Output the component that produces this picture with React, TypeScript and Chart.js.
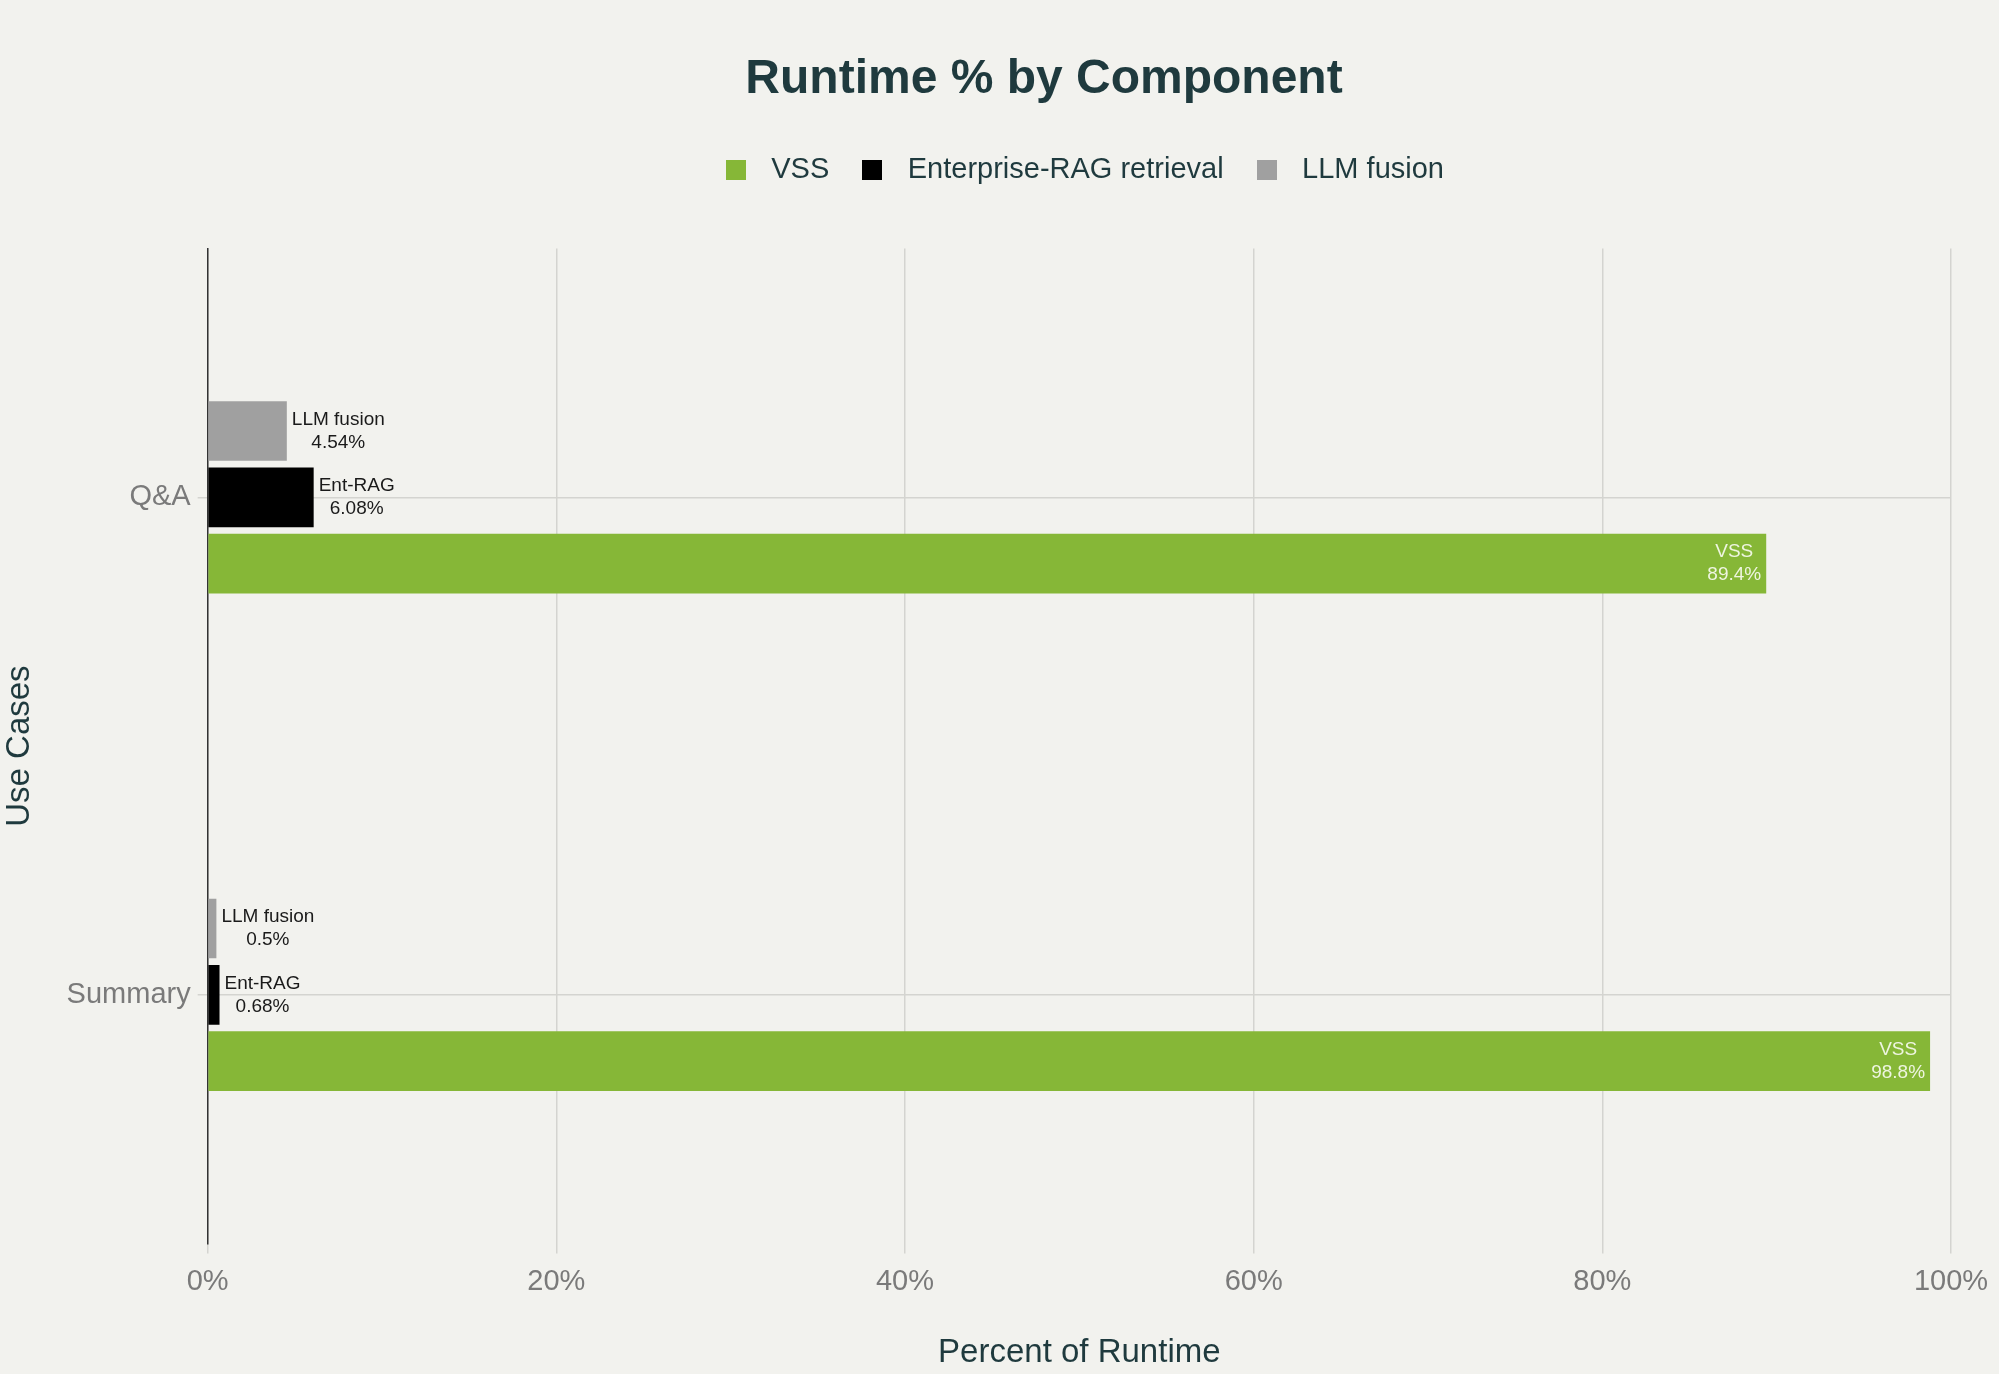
import React, { useEffect, useRef } from 'react';
import { Chart, registerables } from 'chart.js';

Chart.register(...registerables);

// chart data
const useCases = ['Q&A', 'Summary'];
const componentNames = ['VSS', 'Enterprise-RAG retrieval', 'LLM fusion'];
const shortNames = ['VSS', 'Ent-RAG', 'LLM fusion'];
const vssValues = [89.4, 98.8];
const entRagValues = [6.08, 0.68];
const llmFusionValues = [4.54, 0.5];
const xTickValues = [0, 20, 40, 60, 80, 100];

const seriesValues = [vssValues, entRagValues, llmFusionValues];
const seriesColors = ['#86b737', '#000000', '#a0a0a0'];
// top to bottom inside each group: LLM fusion, Ent-RAG, VSS
const drawOrder = [2, 1, 0];

const FONT = "'Liberation Sans', Arial, sans-serif";
const DARK = '#1f3a3e';
const GREY = '#7a7a7a';
const GRID = '#d4d4d0';
const BG = '#f2f2ee';

const LEGEND_GAP = 54;
const TITLE_CENTER_X = 1044;

// square legend swatch drawn as an image so the gap to the text can be wider
const swatch = (color: string) => {
  const c = document.createElement('canvas');
  c.width = 20;
  c.height = 20;
  const g = c.getContext('2d');
  if (g) {
    g.fillStyle = color;
    g.fillRect(0, 0, 20, 20);
  }
  return c;
};

// extra room under the legend, legend centred over the plot area, title nudged
const headerPlacement = {
  id: 'headerPlacement',
  beforeInit(chart: any) {
    const legend = chart.legend;
    if (!legend) return;
    const fit = legend.fit;
    legend.fit = function () {
      fit.call(this);
      this.height += LEGEND_GAP;
    };
  },
  afterLayout(chart: any) {
    const area = chart.chartArea;
    const legend = chart.legend;
    if (legend) {
      legend.left = area.left;
      legend.right = area.right;
      legend.width = area.right - area.left;
    }
    const title = chart.titleBlock;
    if (title) {
      const dx = TITLE_CENTER_X - (title.left + title.right) / 2;
      title.left += dx;
      title.right += dx;
    }
  },
};

// two-line labels next to / inside the bars
const barLabels = {
  id: 'barLabels',
  afterDatasetsDraw(chart: any) {
    const ctx = chart.ctx;
    const size = 19;
    const lineH = 23;
    ctx.save();
    ctx.font = `${size}px ${FONT}`;
    ctx.textAlign = 'center';
    ctx.textBaseline = 'middle';
    chart.data.datasets.forEach((ds: any, di: number) => {
      const meta = chart.getDatasetMeta(di);
      meta.data.forEach((bar: any, i: number) => {
        const value = ds.data[i];
        const lines = [ds.shortName, `${value}%`];
        const w = Math.max(...lines.map((l) => ctx.measureText(l).width));
        const inside = value >= 50;
        const cx = inside ? bar.x - 5 - w / 2 : bar.x + 5 + w / 2;
        ctx.fillStyle = inside ? '#eef5e0' : '#1a1a1a';
        lines.forEach((l, li) => {
          ctx.fillText(l, cx, bar.y + (li - (lines.length - 1) / 2) * lineH);
        });
      });
    });
    ctx.restore();
  },
};

const App: React.FC = () => {
  const chartRef = useRef<HTMLCanvasElement>(null);
  const chartInstance = useRef<Chart | null>(null);

  useEffect(() => {
    if (!chartRef.current) return;
    if (chartInstance.current) {
      chartInstance.current.destroy();
    }
    const ctx = chartRef.current.getContext('2d');
    if (!ctx) return;

    const datasets = drawOrder.map((k) => ({
      label: componentNames[k],
      shortName: shortNames[k],
      data: seriesValues[k],
      backgroundColor: seriesColors[k],
      borderWidth: 0,
      categoryPercentage: 0.4,
      barPercentage: 0.9,
    }));

    const defaultLabels = Chart.defaults.plugins.legend.labels.generateLabels;

    chartInstance.current = new Chart(ctx, {
      type: 'bar',
      data: { labels: useCases, datasets: datasets as any },
      plugins: [headerPlacement, barLabels],
      options: {
        indexAxis: 'y',
        responsive: true,
        maintainAspectRatio: false,
        animation: false,
        layout: { padding: { top: 0, right: 48, bottom: 0, left: 0 } },
        scales: {
          x: {
            min: 0,
            max: 100,
            afterBuildTicks: (scale: any) => {
              scale.ticks = xTickValues.map((v) => ({ value: v }));
            },
            ticks: {
              color: GREY,
              font: { family: FONT, size: 29 },
              padding: 10.5,
              callback: (v: any) => `${v}%`,
            },
            grid: { color: GRID, lineWidth: 1.5, tickLength: 10, tickColor: GRID },
            border: { display: false },
            title: {
              display: true,
              text: 'Percent of Runtime',
              color: DARK,
              font: { family: FONT, size: 33 },
              padding: { top: 23.5, bottom: 1.5 },
            },
          },
          y: {
            grid: { color: GRID, lineWidth: 1.5, offset: false, tickLength: 10, tickColor: GRID },
            border: { display: true, color: '#333333', width: 1.5 },
            ticks: {
              color: GREY,
              font: { family: FONT, size: 29 },
              padding: 7,
            },
            title: {
              display: true,
              text: 'Use Cases',
              color: DARK,
              font: { family: FONT, size: 33 },
              padding: { top: 0, bottom: 20 },
            },
          },
        },
        plugins: {
          title: {
            display: true,
            text: 'Runtime % by Component',
            color: DARK,
            font: { family: FONT, size: 48, weight: 'bold' },
            padding: { top: 51, bottom: 25 },
          },
          legend: {
            display: true,
            position: 'top',
            reverse: true,
            labels: {
              usePointStyle: true,
              pointStyleWidth: 42,
              boxHeight: 20,
              padding: 22,
              color: DARK,
              font: { family: FONT, size: 29 },
              generateLabels: (chart: any) =>
                defaultLabels(chart).map((item: any) => ({
                  ...item,
                  pointStyle: swatch(item.fillStyle as string),
                })),
            },
          },
          tooltip: { enabled: false },
        },
      },
    });

    return () => {
      if (chartInstance.current) {
        chartInstance.current.destroy();
        chartInstance.current = null;
      }
    };
  }, []);

  return (
    <div
      style={{
        position: 'fixed',
        left: 0,
        top: 0,
        width: 1999,
        height: 1374,
        background: BG,
      }}
    >
      <canvas ref={chartRef} />
    </div>
  );
};

export default App;
